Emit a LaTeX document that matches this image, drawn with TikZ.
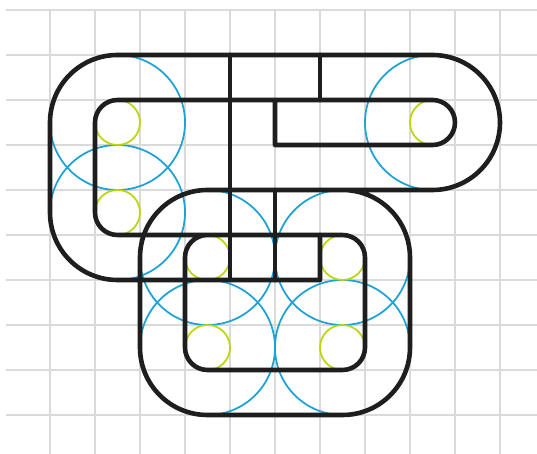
\documentclass[tikz,border=0pt]{standalone}
\definecolor{gridgray}{HTML}{DADADA}
\definecolor{guideblue}{HTML}{1CA2D4}
\definecolor{guidegreen}{HTML}{BCD60A}
\definecolor{inkblack}{HTML}{1E1E1E}
\tikzset{
  gridline/.style={draw=gridgray, line width=0.9pt},
  bigguide/.style={draw=guideblue, line width=1.1pt},
  smallguide/.style={draw=guidegreen, line width=1.1pt},
  track/.style={draw=inkblack, line width=2.9pt, line join=round, line cap=round}
}
\begin{document}
\begin{tikzpicture}[x=1cm,y=1cm]
\useasboundingbox (-0.1111,-9.8667) rectangle (11.8222,0.2222);
\fill[white] (-0.1111,-9.8667) rectangle (11.8222,0.2222);
% grid
\foreach \r in {0,...,9} {\draw[gridline] (0.0222,-\r) -- (11.8222,-\r);}
\foreach \c in {1,...,11} {\draw[gridline] (\c,0) -- (\c,-9.8667);}
% big guide circles
\foreach \p in {(2.5,-2.5),(2.5,-4.5),(9.5,-2.5),(4.5,-5.5),(7.5,-5.5),(4.5,-7.5),(7.5,-7.5)}
  {\draw[bigguide] \p circle[radius=1.5];}
% small guide circles
\foreach \p in {(2.5,-2.5),(2.5,-4.5),(9.5,-2.5),(4.5,-5.5),(7.5,-5.5),(4.5,-7.5),(7.5,-7.5)}
  {\draw[smallguide] \p circle[radius=0.5];}
% outer track
\draw[track] (7,-5) -- (7,-6) -- (2.5,-6)
  arc[start angle=270, end angle=180, radius=1.5] -- (1,-2.5)
  arc[start angle=180, end angle=90, radius=1.5] -- (9.5,-1)
  arc[start angle=90, end angle=-90, radius=1.5] -- (4.5,-4)
  arc[start angle=90, end angle=180, radius=1.5] -- (3,-7.5)
  arc[start angle=180, end angle=270, radius=1.5] -- (7.5,-9)
  arc[start angle=270, end angle=360, radius=1.5] -- (9,-5.5)
  arc[start angle=0, end angle=90, radius=1.5];
% inner track
\draw[track] (6,-2) -- (6,-3) -- (9.5,-3)
  arc[start angle=-90, end angle=90, radius=0.5] -- (2.5,-2)
  arc[start angle=90, end angle=180, radius=0.5] -- (2,-4.5)
  arc[start angle=180, end angle=270, radius=0.5] -- (7.5,-5)
  arc[start angle=90, end angle=0, radius=0.5] -- (8,-7.5)
  arc[start angle=0, end angle=-90, radius=0.5] -- (4.5,-8)
  arc[start angle=270, end angle=180, radius=0.5] -- (4,-5.5)
  arc[start angle=180, end angle=90, radius=0.5];
% straight links
\draw[track] (5,-1) -- (5,-6);
\draw[track] (7,-1) -- (7,-2);
\draw[track] (6,-4) -- (6,-6);
\end{tikzpicture}
\end{document}
